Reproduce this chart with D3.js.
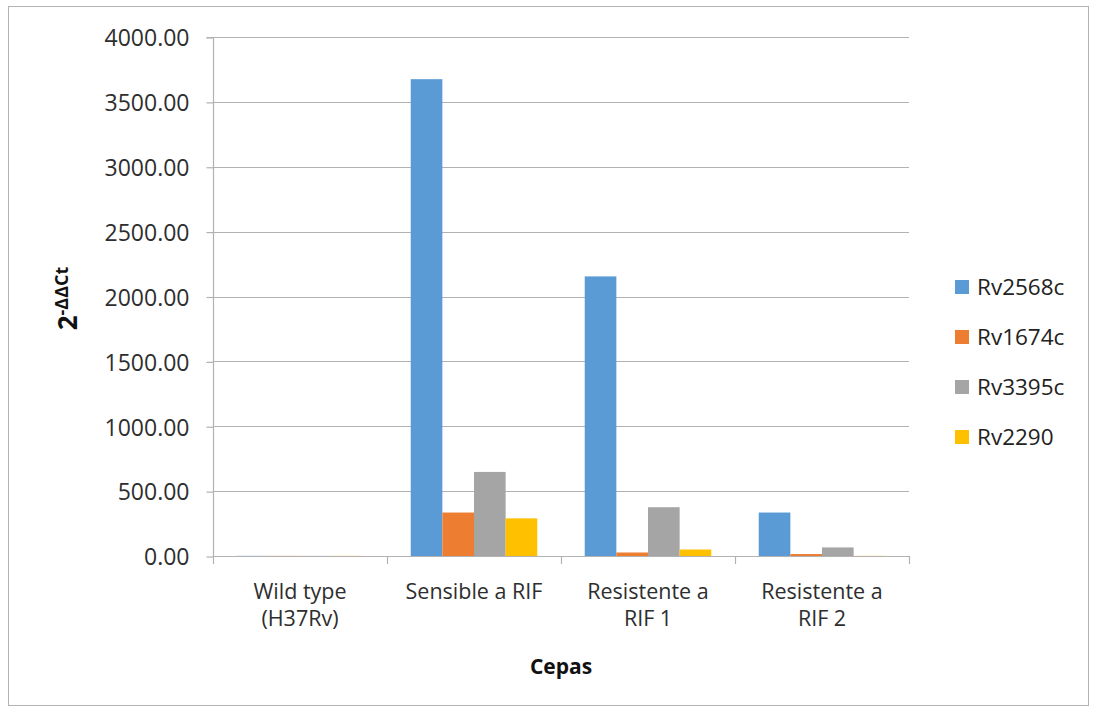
<!DOCTYPE html>
<html>
<head>
<meta charset="utf-8">
<script src="https://cdn.jsdelivr.net/npm/d3@7/dist/d3.min.js"></script>
<style>
  html, body { margin: 0; padding: 0; background: #fff; }
  svg { display: block; font-family: "Open Sans", "Noto Sans", sans-serif; }
</style>
</head>
<body>
<svg id="chart" width="1097" height="713"></svg>
<script>
// Strains (x categories), each label split into lines
const categories = ["Wild type (H37Rv)", "Sensible a RIF", "Resistente a RIF 1", "Resistente a RIF 2"];
const categoryLines = [["Wild type", "(H37Rv)"], ["Sensible a RIF"], ["Resistente a", "RIF 1"], ["Resistente a", "RIF 2"]];

// Genes (series) and their relative expression 2^-ΔΔCt per strain
const genes = ["Rv2568c", "Rv1674c", "Rv3395c", "Rv2290"];
const rv2568c = [1, 3675, 2155, 335];
const rv1674c = [1, 335, 27, 15];
const rv3395c = [1, 648, 376, 66];
const rv2290  = [1, 290, 50, 1];
const seriesValues = [rv2568c, rv1674c, rv3395c, rv2290];
const colors = ["#5B9BD5", "#ED7D31", "#A5A5A5", "#FFC000"];

// Y axis ticks
const yTicks = [0, 500, 1000, 1500, 2000, 2500, 3000, 3500, 4000];

const svg = d3.select("#chart");
const plotLeft = 213, plotRight = 909, plotTop = 37, plotBottom = 556;

// Outer chart-area frame
svg.append("rect")
  .attr("x", 8.5).attr("y", 6.5).attr("width", 1080).attr("height", 699)
  .attr("fill", "none").attr("stroke", "#b4b4b4").attr("stroke-width", 1);

const x0 = d3.scaleBand().domain(categories).range([plotLeft, plotRight]).paddingInner(0).paddingOuter(0);
// Clustered bars with a gap of 1.5 bar widths per category
const barW = x0.bandwidth() / (genes.length + 1.5);
const x1 = d3.scaleBand().domain(genes)
  .range([barW * 0.75, barW * 0.75 + barW * genes.length]).padding(0);
const y = d3.scaleLinear().domain([0, 4000]).range([plotBottom, plotTop]);

// Horizontal gridlines
svg.append("g")
  .selectAll("line")
  .data(yTicks.filter(d => d > 0))
  .join("line")
  .attr("x1", plotLeft).attr("x2", plotRight)
  .attr("y1", d => Math.round(y(d)) + 0.5).attr("y2", d => Math.round(y(d)) + 0.5)
  .attr("stroke", "#b2b2b2").attr("stroke-width", 1.2);

// Bars
const rows = categories.map((c, i) => ({ cat: c, vals: genes.map((g, j) => ({ gene: g, v: seriesValues[j][i], color: colors[j] })) }));
svg.append("g")
  .selectAll("g")
  .data(rows)
  .join("g")
  .attr("transform", d => `translate(${x0(d.cat)},0)`)
  .selectAll("rect")
  .data(d => d.vals)
  .join("rect")
  .attr("x", d => x1(d.gene))
  .attr("width", x1.bandwidth())
  .attr("y", d => y(d.v))
  .attr("height", d => y(0) - y(d.v))
  .attr("fill", d => d.color);

// Y axis
const yAxis = d3.axisLeft(y).tickValues(yTicks).tickFormat(d3.format(".2f")).tickSize(7).tickPadding(17);
const gy = svg.append("g").attr("transform", `translate(${plotLeft + 0.5},0.5)`).call(yAxis);
gy.select(".domain").attr("stroke", "#b2b2b2").attr("stroke-width", 1.2).attr("d", `M-7,${plotTop}H0V${plotBottom}`);
gy.selectAll(".tick line").attr("stroke", "#b2b2b2").attr("stroke-width", 1.2);
gy.selectAll(".tick text")
  .attr("fill", "#2e2e2e").style("font-size", "23px").style("font-family", "'Open Sans', sans-serif")
  .attr("dy", "0.36em");

// X axis (ticks at category boundaries)
const boundaries = categories.map(c => x0(c)).concat([plotRight]);
const gx = svg.append("g");
gx.append("line").attr("x1", plotLeft).attr("x2", plotRight)
  .attr("y1", plotBottom + 0.5).attr("y2", plotBottom + 0.5)
  .attr("stroke", "#b2b2b2").attr("stroke-width", 1.2);
gx.selectAll("line.tk").data(boundaries).join("line").attr("class", "tk")
  .attr("x1", d => Math.round(d) + 0.5).attr("x2", d => Math.round(d) + 0.5)
  .attr("y1", plotBottom).attr("y2", plotBottom + 8)
  .attr("stroke", "#b2b2b2").attr("stroke-width", 1.2);

// Category labels, one text per line
categoryLines.forEach((lines, i) => {
  lines.forEach((line, k) => {
    gx.append("text")
      .attr("x", x0(categories[i]) + x0.bandwidth() / 2)
      .attr("y", 599 + k * 27)
      .attr("text-anchor", "middle").attr("fill", "#2e2e2e")
      .style("font-size", "21.5px").text(line);
  });
});

// Axis titles
svg.append("text")
  .attr("x", (plotLeft + plotRight) / 2).attr("y", 674)
  .attr("text-anchor", "middle").attr("font-weight", "bold").attr("fill", "#111")
  .style("font-size", "21px").text("Cepas");

const yt = svg.append("text")
  .attr("transform", `translate(77,${(plotTop + plotBottom) / 2 + 2}) rotate(-90)`)
  .attr("text-anchor", "middle").attr("font-weight", "bold").attr("fill", "#111")
  .style("font-size", "26px");
yt.append("tspan").text("2");
yt.append("tspan").attr("dy", "-0.5em").style("font-size", "18px").text("-ΔΔCt");

// Legend
const lg = svg.append("g").selectAll("g").data(genes).join("g")
  .attr("transform", (d, i) => `translate(955,${287 + i * 50})`);
lg.append("rect").attr("x", 0).attr("y", -7).attr("width", 14).attr("height", 14)
  .attr("fill", (d, i) => colors[i]);
lg.append("text").attr("x", 22).attr("y", 0).attr("dy", "0.36em")
  .attr("fill", "#222").style("font-size", "22.5px").text(d => d);
</script>
</body>
</html>
